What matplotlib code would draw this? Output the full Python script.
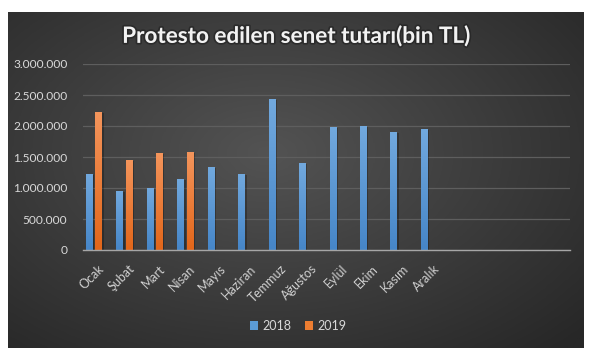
import numpy as np
import matplotlib
matplotlib.use("Agg")
import matplotlib.pyplot as plt
from matplotlib import patheffects as pe
from matplotlib.colors import LinearSegmentedColormap

months = ["Ocak", "Şubat", "Mart", "Nisan", "Mayıs", "Haziran", "Temmuz",
          "Ağustos", "Eylül", "Ekim", "Kasım", "Aralık", "", "", "", ""]
values_2018 = [1226000, 952000, 1005000, 1150000, 1339000, 1226000, 2435000,
               1403000, 1984000, 2000000, 1903000, 1952000]
values_2019 = [2226000, 1452000, 1565000, 1580000]
yticks = [0, 500000, 1000000, 1500000, 2000000, 2500000, 3000000]
ytick_labels = ["0", "500.000", "1.000.000", "1.500.000", "2.000.000", "2.500.000", "3.000.000"]
title = "Protesto edilen senet tutarı(bin TL)"
series_names = ["2018", "2019"]

W, H = 593, 358
fig = plt.figure(figsize=(W / 100, H / 100), dpi=100)
fig.patch.set_facecolor("white")

# dark panel with radial gradient
bg = fig.add_axes([8 / W, (H - 348) / H, 576 / W, 336 / H], zorder=0)
yy, xx = np.mgrid[0:1:300j, 0:1:500j]
r = np.sqrt(((xx - 0.45) / 0.75) ** 2 + ((yy - 0.42) / 0.8) ** 2)
r = np.clip(r, 0, 1)
bgcmap = LinearSegmentedColormap.from_list("bg", ["#535353", "#3d3d3d", "#272727"])
bg.imshow(r, cmap=bgcmap, aspect="auto", extent=[0, 1, 0, 1], origin="upper", vmin=0, vmax=1)
bg.set_axis_off()

ax = fig.add_axes([82.7 / W, (H - 250) / H, 487.3 / W, 186 / H], zorder=1)
ax.patch.set_alpha(0)

x = np.arange(len(months))
bw = 0.22
blue_grad = LinearSegmentedColormap.from_list("b", ["#4686c8", "#72a9de"])
orange_grad = LinearSegmentedColormap.from_list("o", ["#e2661a", "#f4955c"])
shadow = [pe.SimplePatchShadow(offset=(1.2, -0.6), shadow_rgbFace="#000000", alpha=0.25), pe.Normal()]

def draw(xs, vals, cmap, color, label):
    bars = ax.bar(xs, vals, width=bw, color=color, label=label, zorder=3)
    grad = np.linspace(0, 1, 100).reshape(-1, 1)
    for b in bars:
        b.set_path_effects(shadow)
        im = ax.imshow(grad, cmap=cmap, origin="lower", aspect="auto",
                       extent=[b.get_x(), b.get_x() + b.get_width(), 0, b.get_height()],
                       zorder=3.5)
        im.set_clip_path(b)
    return bars

b1 = draw(x[:len(values_2018)] - 0.285, values_2018, blue_grad, "#5b9bd5", series_names[0])
b2 = draw(x[:len(values_2019)] + 0.02, values_2019, orange_grad, "#ed7d31", series_names[1])

ax.set_xlim(-0.5, len(months) - 0.5)
ax.set_ylim(0, 3000000)
ax.set_yticks(yticks)
ax.set_yticklabels(ytick_labels)
ax.yaxis.grid(True, color="#5e5e5e", linewidth=0.9, zorder=0)
ax.set_axisbelow(True)
for s in ["top", "right", "left"]:
    ax.spines[s].set_visible(False)
ax.spines["bottom"].set_color("#a6a6a6")
ax.spines["bottom"].set_linewidth(1.0)
ax.spines["bottom"].set_zorder(4)
ax.tick_params(axis="both", length=0, colors="#d9d9d9", labelsize=8.6)
ax.tick_params(axis="y", pad=11)
for t in ax.get_yticklabels():
    t.set_fontfamily("Lato")
ax.set_xticks(x)
ax.set_xticklabels(months, rotation=45, ha="right", va="top", rotation_mode="anchor",
                   fontfamily="Lato", fontsize=9, color="#d0d0d0")
ax.tick_params(axis="x", pad=9)

fig.text(296 / W, 1 - 36 / H, title, ha="center", va="center", fontsize=16.2,
         fontweight="bold", color="#f2f2f2", fontfamily="Lato",
         path_effects=[pe.withStroke(linewidth=2.5, foreground="#202020", alpha=0.6)])

leg = fig.legend(handles=[b1, b2], labels=series_names, loc="center",
                 bbox_to_anchor=(298 / W, 1 - 326 / H), ncol=2, frameon=False,
                 handlelength=0.65, handleheight=0.65, handletextpad=0.35,
                 columnspacing=1.1, prop={"family": "Lato", "size": 9})
for t in leg.get_texts():
    t.set_color("#d9d9d9")
for h in leg.legend_handles:
    h.set_path_effects([])

fig.savefig("out.png", dpi=100, facecolor="white")
